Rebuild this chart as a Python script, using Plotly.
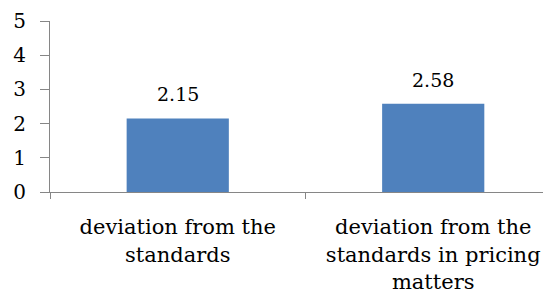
import plotly.graph_objects as go

categories = ["deviation from the<br>standards", "deviation from the<br>standards in pricing<br>matters"]
values = [2.15, 2.58]
value_labels = ["2.15", "2.58"]
y_ticks = [0, 1, 2, 3, 4, 5]

FONT = "DejaVu Serif"
AXIS = "#868686"

fig = go.Figure()
fig.add_trace(go.Bar(x=categories, y=values, marker=dict(color="#4F81BD", line=dict(width=0)),
                     width=0.4, hoverinfo="skip"))

for c, v, t in zip(categories, values, value_labels):
    fig.add_annotation(x=c, y=v, text=t, showarrow=False, yanchor="bottom", yshift=11,
                       font=dict(family=FONT, size=19, color="#000000"))

fig.update_layout(
    width=543, height=290,
    margin=dict(l=42, r=0, t=13, b=106),
    paper_bgcolor="white", plot_bgcolor="white",
    showlegend=False,
    font=dict(family=FONT, size=20, color="#000000"),
)
fig.update_xaxes(
    range=[-0.5, 1.461], showline=True, linecolor=AXIS, linewidth=1,
    ticks="outside", tickson="boundaries", ticklen=6, tickcolor=AXIS, tickwidth=1,
    showgrid=False, ticklabelstandoff=16,
    tickfont=dict(family=FONT, size=21, color="#000000"),
)
fig.update_yaxes(
    range=[0, 5], tickvals=y_ticks, showline=True, linecolor=AXIS, linewidth=1,
    ticks="outside", ticklen=9, tickcolor=AXIS, tickwidth=1, showgrid=False,
    zeroline=False, ticklabelstandoff=10,
    tickfont=dict(family=FONT, size=20, color="#000000"),
)

fig.write_html("out.html")
